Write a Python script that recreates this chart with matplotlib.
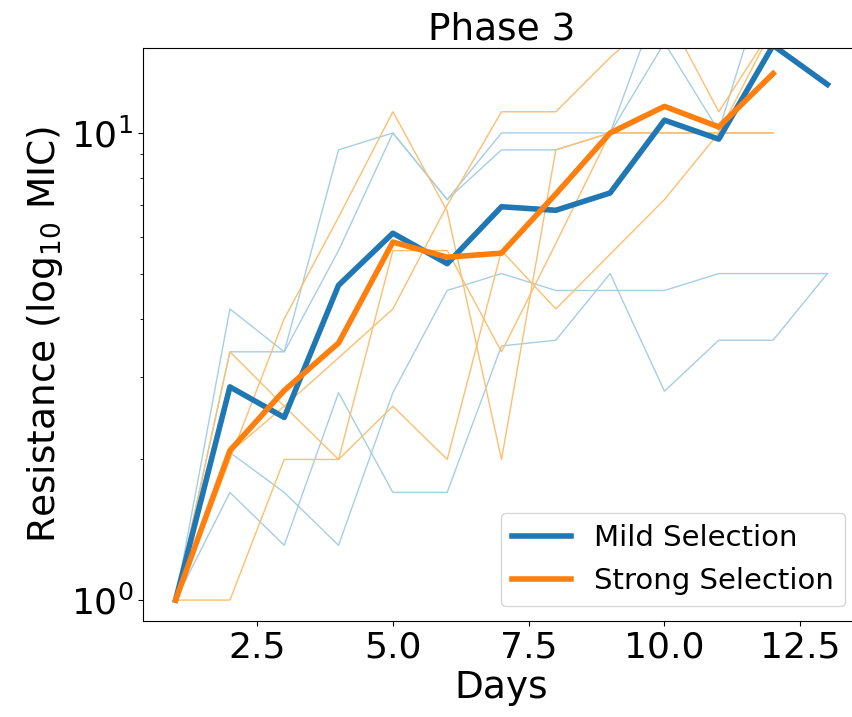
import matplotlib
matplotlib.use('Agg')
import matplotlib.pyplot as plt

# days
days_mild = [1, 2, 3, 4, 5, 6, 7, 8, 9, 10, 11, 12, 13]
days_strong = [1, 2, 3, 4, 5, 6, 7, 8, 9, 10, 11, 12]

# individual replicates, mild selection
mild_reps = [
    [1, 4.2, 3.4, 9.2, 10, 7.2, 10, 10, 10, 20.8, 20, 29, 20],
    [1, 3.4, 3.4, 5.6, 10, 7.2, 9.2, 9.2, 10, 15.6, 10.1, 24, 20.8],
    [1, 1.7, 1.31, 2.78, 1.7, 1.7, 3.5, 3.6, 5.0, 2.8, 3.6, 3.6, 5.0],
    [1, 2.07, 1.7, 1.31, 2.78, 4.6, 5.0, 4.6, 4.6, 4.6, 5.0, 5.0, 5.0],
]

# individual replicates, strong selection
strong_reps = [
    [1, 2.0, 4.0, 6.6, 11.1, 6.8, 2.0, 9.2, 10, 10, 10, 10],
    [1, 3.4, 2.6, 2.0, 5.6, 5.6, 3.4, 5.8, 10, 10, 10, 10],
    [1, 2.07, 2.6, 3.3, 4.2, 7.0, 11.1, 11.1, 14.5, 18.4, 11.1, 16.8],
    [1, 1.0, 2.0, 2.0, 2.6, 2.0, 5.6, 4.2, 5.5, 7.2, 10, 16.8],
]

# mean curves
mild_mean = [1, 2.86, 2.46, 4.72, 6.1, 5.25, 6.95, 6.83, 7.44, 10.65, 9.7, 15.4, 12.7]
strong_mean = [1, 2.09, 2.81, 3.55, 5.84, 5.42, 5.53, 7.4, 10.0, 11.4, 10.3, 13.4]

fig = plt.figure(figsize=(8.52, 7.17), dpi=100)
ax = fig.add_axes([143 / 852, 1 - 621 / 717, (860 - 143) / 852, (621 - 48) / 717])

for r in mild_reps:
    ax.plot(days_mild, r, color='#a6cee3', lw=1)
for r in strong_reps:
    ax.plot(days_strong, r, color='#fdbf6f', lw=1)

ax.plot(days_mild, mild_mean, color='C0', lw=4, label='Mild Selection')
ax.plot(days_strong, strong_mean, color='C1', lw=4, label='Strong Selection')

ax.set_yscale('log')
ax.set_xlim(0.4, 13.6)
ax.set_ylim(0.902, 15.2)
ax.set_xticks([2.5, 5.0, 7.5, 10.0, 12.5])

ax.tick_params(axis='both', which='major', labelsize=26)
ax.set_xlabel('Days', fontsize=27)
ax.set_ylabel('Resistance (log$_{10}$ MIC)', fontsize=27)
ax.set_title('Phase 3', fontsize=27)
ax.legend(loc='lower right', fontsize=21)

fig.savefig('out.png', dpi=100)
